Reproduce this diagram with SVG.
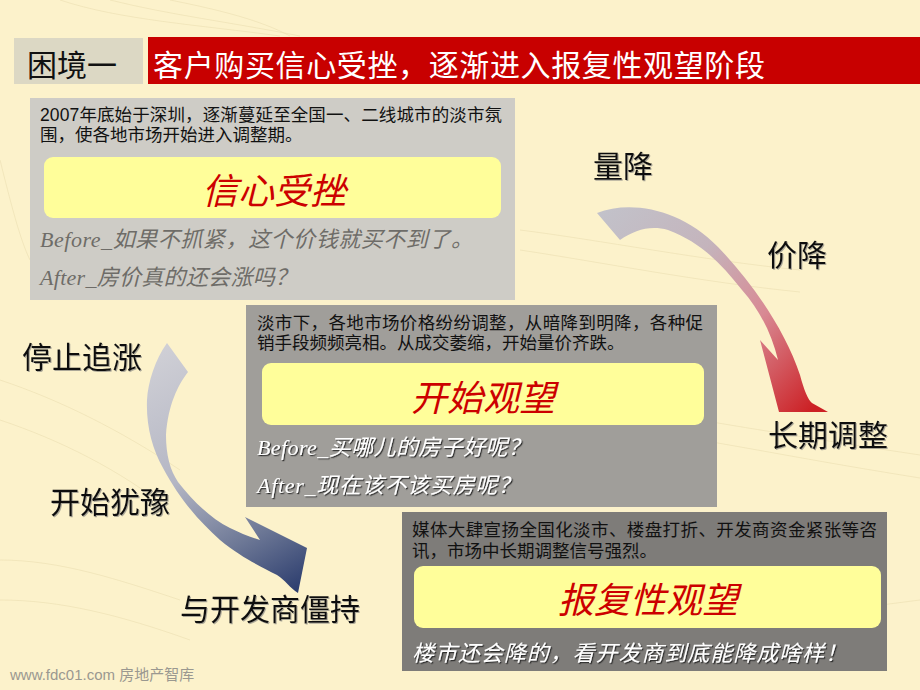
<svg xmlns="http://www.w3.org/2000/svg" width="920" height="690" viewBox="0 0 920 690">
  <defs>
    <style>
      .cjk { font-family: "Liberation Sans", "Noto Sans CJK SC", sans-serif; }
      .body { font-family: "Liberation Sans", "Noto Sans CJK SC", sans-serif; font-size: 17.5px; fill: #111; }
      .key { font-family: "Liberation Serif", "Noto Sans CJK SC", sans-serif; font-size: 36px; fill: #CC0000; font-style: italic; text-anchor: middle; }
      .q { font-family: "Liberation Serif", "Noto Sans CJK SC", sans-serif; font-size: 22px; font-style: italic; }
      .qgray { fill: #6E6C68; }
      .qwhite { fill: #FFFFFF; filter: url(#dark); }
      .big { font-family: "Liberation Sans", "Noto Sans CJK SC", sans-serif; font-size: 30px; fill: #111; filter: url(#soft); }
      .yel { fill: #FFFE9A; }
      .wave { fill: none; stroke: #EADDAE; stroke-width: 1; opacity: 0.55; }
    </style>
    <filter id="dark" x="-5%" y="-30%" width="110%" height="160%">
      <feDropShadow dx="1.2" dy="1.2" stdDeviation="0.3" flood-color="#222" flood-opacity="0.9"/>
    </filter>
    <filter id="soft" x="-5%" y="-30%" width="110%" height="160%">
      <feDropShadow dx="1" dy="1" stdDeviation="0.6" flood-color="#777" flood-opacity="0.6"/>
    </filter>
    <linearGradient id="gRed" x1="600" y1="210" x2="810" y2="412" gradientUnits="userSpaceOnUse">
      <stop offset="0" stop-color="#C2C2CA"/>
      <stop offset="0.35" stop-color="#C4B4BC"/>
      <stop offset="0.65" stop-color="#D88A94"/>
      <stop offset="1" stop-color="#CC2024"/>
    </linearGradient>
    <linearGradient id="gBlue" x1="160" y1="345" x2="300" y2="590" gradientUnits="userSpaceOnUse">
      <stop offset="0" stop-color="#D0D0D6"/>
      <stop offset="0.45" stop-color="#B4B6C4"/>
      <stop offset="0.75" stop-color="#6D7896"/>
      <stop offset="1" stop-color="#2C3D6E"/>
    </linearGradient>
  </defs>

  <!-- background -->
  <rect x="0" y="0" width="920" height="690" fill="#FCF2CB"/>
  <g id="background-waves">
    <path class="wave" d="M60,0 C120,20 200,25 280,36"/>
    <path class="wave" d="M110,0 C170,15 230,22 300,36"/>
    <path class="wave" d="M170,0 C220,10 260,20 290,36"/>
    <path class="wave" d="M0,160 C10,200 20,240 30,260"/>
    <path class="wave" d="M0,380 C60,400 120,430 180,470"/>
    <path class="wave" d="M0,420 C60,440 120,470 170,510"/>
    <path class="wave" d="M0,560 C60,560 120,580 180,600"/>
    <path class="wave" d="M0,600 C60,600 120,615 190,640"/>
    <path class="wave" d="M520,230 C600,240 700,260 800,270"/>
    <path class="wave" d="M520,250 C600,262 700,282 800,292"/>
    <path class="wave" d="M700,420 C760,430 820,440 920,455"/>
    <path class="wave" d="M700,440 C760,450 820,462 920,478"/>
    <path class="wave" d="M720,630 C780,620 840,610 920,600"/>
  </g>

  <!-- title -->
  <g id="title">
    <rect x="14" y="38" width="129" height="46" fill="#DCD8C4"/>
    <text x="27" y="76" class="cjk" font-size="30" fill="#111">困境一</text>
    <rect x="148" y="37" width="772" height="47" fill="#C80000"/>
    <text x="153" y="76" class="cjk" font-size="30" fill="#FFFFFF" textLength="612" lengthAdjust="spacing">客户购买信心受挫，逐渐进入报复性观望阶段</text>
  </g>

  <!-- connectors (curved arrows) -->
  <g id="connectors">
    <path id="arrow-right" fill="url(#gRed)" d="M597,213 C630,200 680,208 718,247 C752,282 785,330 800,375 C804,390 808,400 812,403 L828,412 L779,412 L760,340 L778,360 C772,335 760,310 742,290 C720,262 700,242 668,230 C650,225 635,230 620,240 Z"/>
    <path id="arrow-left" fill="url(#gBlue)" d="M167,343 L188,372 C178,385 168,405 166,435 C166,455 170,470 178,482 C192,500 210,518 230,528 C240,533 250,537 260,540 L245,517 L307,548 L298,593 C290,588 285,580 277,575 C260,566 242,558 220,540 C200,522 180,500 163,468 C152,448 146,425 147,400 C148,382 155,360 167,343 Z"/>
  </g>

  <!-- node 1 -->
  <g id="node-xinxin">
    <rect x="30" y="98" width="485" height="202" fill="#CECCC6"/>
    <text x="40" y="121" class="body" textLength="462" lengthAdjust="spacing">2007年底始于深圳，逐渐蔓延至全国一、二线城市的淡市氛</text>
    <text x="40" y="141" class="body">围，使各地市场开始进入调整期。</text>
    <rect x="44" y="157" width="457" height="61" rx="9" class="yel"/>
    <text x="274" y="204" class="key">信心受挫</text>
    <text x="40" y="247" class="q qgray" textLength="433" lengthAdjust="spacing">Before_如果不抓紧，这个价钱就买不到了。</text>
    <text x="40" y="285" class="q qgray" textLength="257" lengthAdjust="spacing">After_房价真的还会涨吗？</text>
  </g>

  <!-- node 2 -->
  <g id="node-guanwang">
    <rect x="246" y="305" width="471" height="202" fill="#A09E9A"/>
    <text x="257" y="329" class="body" textLength="446" lengthAdjust="spacing">淡市下，各地市场价格纷纷调整，从暗降到明降，各种促</text>
    <text x="257" y="349" class="body">销手段频频亮相。从成交萎缩，开始量价齐跌。</text>
    <rect x="262" y="363" width="442" height="62" rx="9" class="yel"/>
    <text x="483" y="411" class="key">开始观望</text>
    <text x="257" y="455" class="q qwhite" textLength="273" lengthAdjust="spacing">Before_买哪儿的房子好呢？</text>
    <text x="257" y="493" class="q qwhite" textLength="263" lengthAdjust="spacing">After_现在该不该买房呢？</text>
  </g>

  <!-- node 3 -->
  <g id="node-baofu">
    <rect x="402" y="512" width="485" height="159" fill="#7E7C79"/>
    <text x="412" y="536" class="body" textLength="465" lengthAdjust="spacing">媒体大肆宣扬全国化淡市、楼盘打折、开发商资金紧张等咨</text>
    <text x="412" y="557" class="body">讯，市场中长期调整信号强烈。</text>
    <rect x="414" y="566" width="467" height="62" rx="9" class="yel"/>
    <text x="648" y="613" class="key">报复性观望</text>
    <text x="412" y="661" class="q qwhite" textLength="435" lengthAdjust="spacing">楼市还会降的，看开发商到底能降成啥样！</text>
  </g>

  <!-- stage labels -->
  <g id="label-liangjiang"><text x="593" y="177" class="big">量降</text></g>
  <g id="label-jiajiang"><text x="767" y="266" class="big">价降</text></g>
  <g id="label-changqi"><text x="768" y="446" class="big">长期调整</text></g>
  <g id="label-tingzhi"><text x="22" y="368" class="big">停止追涨</text></g>
  <g id="label-youyu"><text x="50" y="513" class="big">开始犹豫</text></g>
  <g id="label-jiangchi"><text x="180" y="620" class="big">与开发商僵持</text></g>

  <!-- footer -->
  <g id="footer">
    <text x="10" y="680" class="cjk" font-size="15" fill="#9A9890">www.fdc01.com 房地产智库</text>
  </g>
</svg>
